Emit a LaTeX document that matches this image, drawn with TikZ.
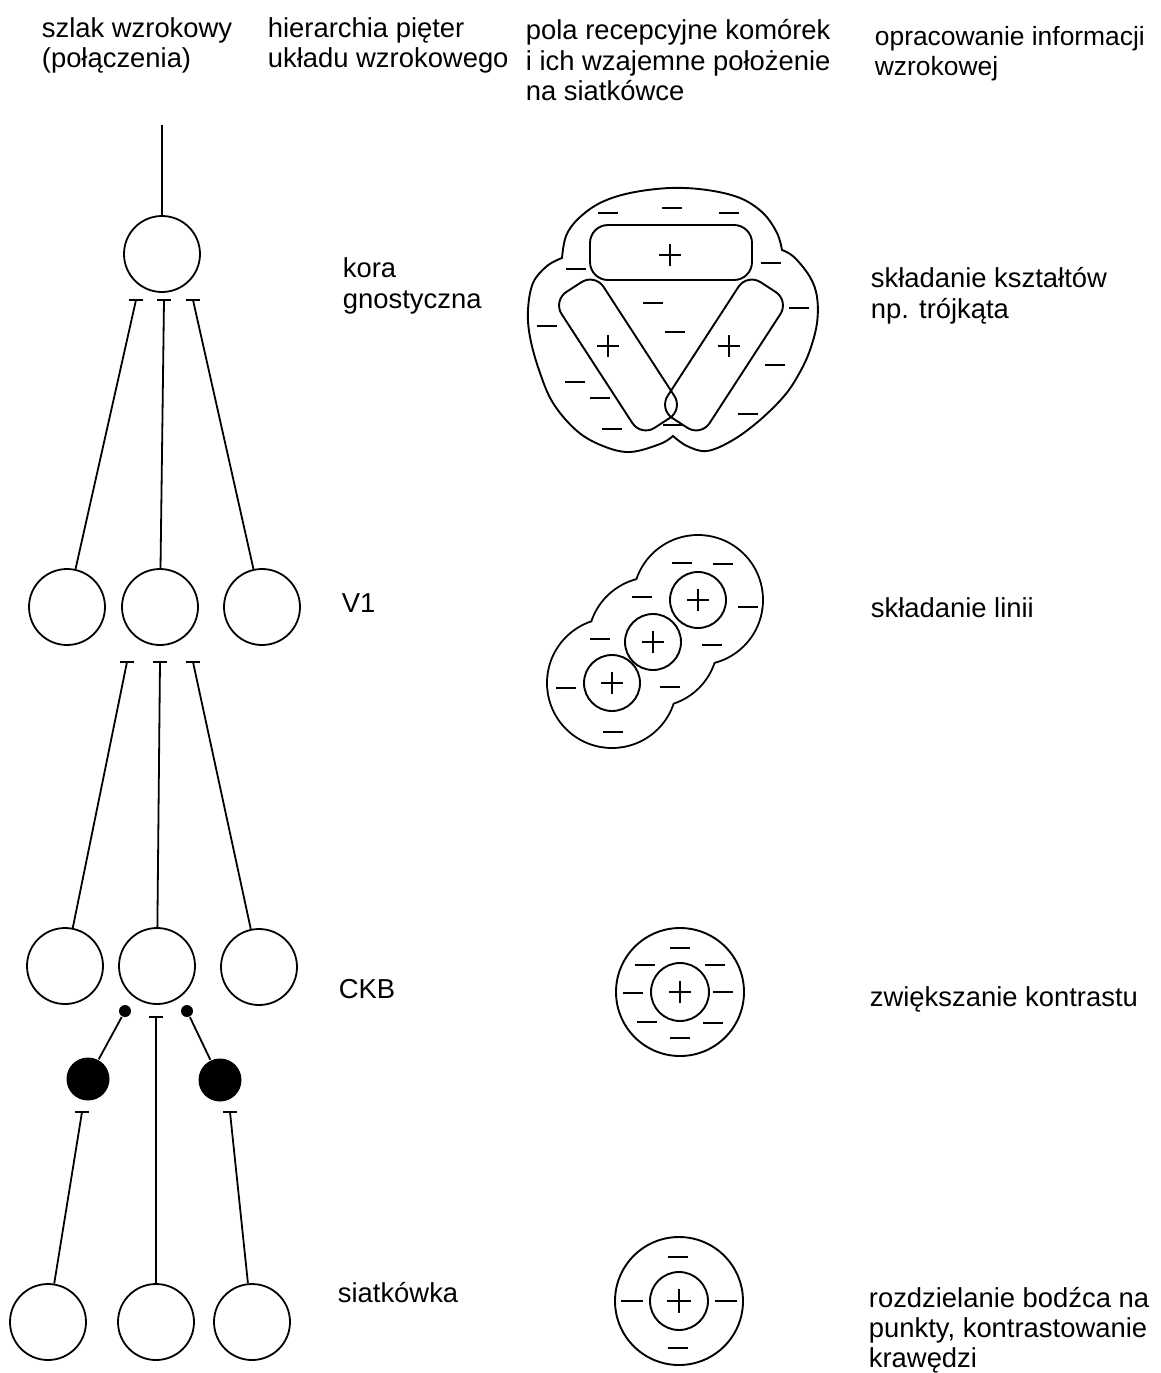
\documentclass[tikz,border=0pt]{standalone}
\usepackage{fontspec}
\setmainfont{Liberation Sans}
\begin{document}
\begin{tikzpicture}[x=1pt,y=-1pt, line width=1.8pt,
  lbl/.style={anchor=base west, inner sep=0pt, font=\fontsize{27.4}{31}\selectfont},
  lblsm/.style={lbl, font=\fontsize{26.4}{31}\selectfont},
  cell/.style={circle, draw, minimum size=76pt, inner sep=0pt, line width=1.8pt},
  blk/.style={circle, fill=black, minimum size=43pt, inner sep=0pt},
  dotn/.style={circle, fill=black, minimum size=12pt, inner sep=0pt},
  conn/.style={line width=1.8pt},
  mn/.style={line width=2.3pt},
  pl/.style={line width=1.9pt},
  rf/.style={line width=1.9pt},
  bar/.style={draw, line width=1.9pt, inner sep=0pt},
  ]
\fill[white] (0,0) rectangle (1161,1373);
\useasboundingbox (0,0) rectangle (1161,1373);

% ---------- headers ----------
\node[lbl] (h1a) at (41,37) {szlak wzrokowy};
\node[lbl] (h1b) at (41,67) {(połączenia)};
\node[lbl] (h2a) at (267,37) {hierarchia pięter};
\node[lbl] (h2b) at (267,67) {układu wzrokowego};
\node[lbl] (h3a) at (525,39) {pola recepcyjne komórek};
\node[lbl] (h3b) at (525,70) {i ich wzajemne położenie};
\node[lbl] (h3c) at (525,100) {na siatkówce};
\node[lblsm] (h4a) at (874,45) {opracowanie informacji};
\node[lblsm] (h4b) at (874,75) {wzrokowej};

% ---------- level labels ----------
\node[lbl] (l1a) at (342,277) {kora};
\node[lbl] (l1b) at (342,308) {gnostyczna};
\node[lbl] (l2) at (341,612) {V1};
\node[lbl] (l3) at (338,998) {CKB};
\node[lbl] (l4) at (337,1302) {siatkówka};

\node[lbl] (r1a) at (870,287) {składanie kształtów};
\node[lbl] (r1b) at (870,318) {np. trójkąta};
\node[lbl] (r2) at (870,617) {składanie linii};
\node[lbl] (r3) at (869,1006) {zwiększanie kontrastu};
\node[lbl] (r4a) at (868,1307) {rozdzielanie bodźca na};
\node[lbl] (r4b) at (868,1337) {punkty, kontrastowanie};
\node[lbl] (r4c) at (868,1367) {krawędzi};

% ---------- neurons ----------
\node[cell] (K) at (162,254) {};
\node[cell] (Va) at (67,607) {};
\node[cell] (Vb) at (160,607) {};
\node[cell] (Vc) at (262,607) {};
\node[cell] (Ca) at (65,966) {};
\node[cell] (Cb) at (157,966) {};
\node[cell] (Cc) at (259,967) {};
\node[blk] (Ba) at (88,1079) {};
\node[blk] (Bc) at (220,1080) {};
\node[dotn] (Da) at (125,1011) {};
\node[dotn] (Dc) at (187,1011) {};
\node[cell] (Ra) at (48,1322) {};
\node[cell] (Rb) at (156,1322) {};
\node[cell] (Rc) at (252,1322) {};

\coordinate (axon) at (162,125);
\coordinate (tK1) at (136,300);
\coordinate (tK2) at (164,300);
\coordinate (tK3) at (193,300);
\coordinate (tV1) at (127,662);
\coordinate (tV2) at (160,662);
\coordinate (tV3) at (193,662);
\coordinate (tC2) at (156,1017);
\coordinate (tBa) at (82,1112);
\coordinate (tBc) at (230,1112);

\draw[conn] (axon) -- (K);
\draw[conn] (Va) -- (tK1);
\draw[conn] (Vb) -- (tK2);
\draw[conn] (Vc) -- (tK3);
\draw[conn] (Ca) -- (tV1);
\draw[conn] (Cb) -- (tV2);
\draw[conn] (Cc) -- (tV3);
\draw[conn] (Ba) -- (Da);
\draw[conn] (Bc) -- (Dc);
\draw[conn] (Rb) -- (tC2);
\draw[conn] (Ra) -- (tBa);
\draw[conn] (Rc) -- (tBc);
\foreach \t in {tK1,tK2,tK3,tV1,tV2,tV3,tC2,tBa,tBc}
  \draw[conn] ([xshift=-7pt]\t) -- ([xshift=7pt]\t);

% ---------- receptive field: triangle ----------
\draw[rf] plot[smooth, tension=0.6] coordinates {(562,258) (566,236) (578,219) (600,203) (630,193) (670,188) (707,190) (740,198) (763,213) (777,233) (782,250)}
  -- plot[smooth, tension=0.6] coordinates {(782,250) (794,257) (810,277) (817,297) (817,323) (810,350) (800,372) (785,395) (760,420) (733,440) (707,451) (687,446) (673,436)}
  -- plot[smooth, tension=0.6] coordinates {(673,436) (660,444) (630,452) (603,446) (577,431) (553,403) (539,370) (530,337) (528,310) (533,283) (547,266) (562,258)}
  -- cycle;
\node[bar, rounded corners=18pt, minimum width=162pt, minimum height=55pt] (barT) at (671,252.5) {};
\node[bar, rounded corners=16pt, minimum width=162pt, minimum height=50pt, rotate=-57] (barL) at (618,355) {};
\node[bar, rounded corners=16pt, minimum width=162pt, minimum height=50pt, rotate=57] (barR) at (724,355) {};
\foreach \p in {(608,213),(672,208),(729,213),(576,269),(771,263),(547,326),(799,308),(653,303),(675,332),(775,365),(575,382),(600,398),(612,429),(673,425),(748,414)}
  \draw[mn] \p ++(-10,0) -- ++(20,0);
\foreach \p in {(670,255),(608,346),(729,346)}
  \draw[pl] \p ++(-11,0) -- ++(22,0) \p ++(0,-11) -- ++(0,22);

% ---------- receptive field: line ----------
\foreach \c in {(698,600),(653,642),(612,683)}
  \draw[line width=3.8pt] \c circle[radius=64];
\foreach \c in {(698,600),(653,642),(612,683)}
  \fill[white] \c circle[radius=64];
\foreach \c in {(698,600),(653,642),(612,683)}
  {\draw[rf] \c circle[radius=28];
   \draw[pl] \c ++(-11,0) -- ++(22,0) \c ++(0,-11) -- ++(0,22);}
\foreach \p in {(682,563),(723,564),(642,597),(748,607),(600,639),(712,645),(566,688),(670,687),(613,732)}
  \draw[mn] \p ++(-10,0) -- ++(20,0);

% ---------- receptive field: CKB ----------
\draw[rf] (680,992) circle[radius=64];
\draw[rf] (680,992) circle[radius=29];
\draw[pl] (680,992) ++(-11,0) -- ++(22,0) (680,992) ++(0,-11) -- ++(0,22);
\foreach \p in {(680,948),(645,965),(715,965),(633,993),(723,992),(647,1022),(713,1023),(680,1038)}
  \draw[mn] \p ++(-10,0) -- ++(20,0);

% ---------- receptive field: retina ----------
\draw[rf] (679,1301) circle[radius=64];
\draw[rf] (679,1301) circle[radius=29];
\draw[pl] (679,1301) ++(-12,0) -- ++(24,0) (679,1301) ++(0,-12) -- ++(0,24);
\foreach \p in {(678,1257),(678,1348)}
  \draw[mn] \p ++(-10,0) -- ++(20,0);
\draw[mn] (621,1301) -- (643,1301);
\draw[mn] (715,1301) -- (737,1301);
\end{tikzpicture}
\end{document}
